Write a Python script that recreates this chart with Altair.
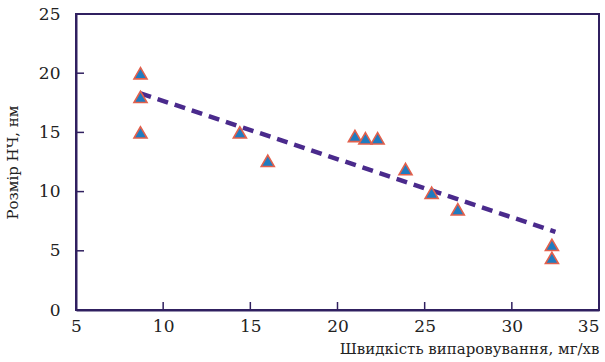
import altair as alt
import pandas as pd

# measured points
rate = [8.7, 8.7, 8.7, 14.4, 16.0, 21.0, 21.6, 22.3, 23.9, 25.4, 26.9, 32.3, 32.3]
size = [20.0, 18.0, 15.0, 15.0, 12.6, 14.7, 14.5, 14.5, 11.9, 9.9, 8.5, 5.5, 4.4]

# trend line end points
trend_x = [8.7, 32.5]
trend_y = [18.3, 6.6]

x_ticks = [5, 10, 15, 20, 25, 30, 35]
y_ticks = [0, 5, 10, 15, 20, 25]

W, H = 523, 296
FONT = "DejaVu Serif"
AX = "#302060"
TXT = "#222222"

pts = pd.DataFrame({"x": rate, "y": size})
trend = pd.DataFrame({"x": trend_x, "y": trend_y})
xt = pd.DataFrame({"t": x_ticks[1:-1]})
yt = pd.DataFrame({"t": y_ticks[1:-1]})

xs = alt.Scale(domain=[5, 35], nice=False, zero=False)
ys = alt.Scale(domain=[0, 25], nice=False, zero=False)

xaxis = alt.Axis(values=x_ticks, title="Швидкість випаровування, мг/хв", titleAnchor="end",
                 titleAlign="right", titleFont=FONT, titleFontSize=15, titleFontWeight="normal",
                 titleColor=TXT, titlePadding=7, labelFont=FONT, labelFontSize=17,
                 labelColor=TXT, labelPadding=8, ticks=True, tickSize=0, tickColor=AX,
                 grid=False, domain=True, domainColor=AX, domainWidth=2, labelFlush=False,
                 labelAlign={"expr": "datum.value == 35 ? 'right' : 'center'"})
yaxis = alt.Axis(values=y_ticks, title="Розмір НЧ, нм", titleFont=FONT, titleFontSize=15,
                 titleFontWeight="normal", titleColor=TXT, titlePadding=18,
                 labelFont=FONT, labelFontSize=17, labelColor=TXT, labelPadding=16,
                 ticks=True, tickSize=0, tickColor=AX, grid=False, domain=True,
                 domainColor=AX, domainWidth=2, labelFlush=False)

base_pts = alt.Chart(pts).mark_point(shape="triangle-up", filled=True, size=170,
                                      fill="#1f7cc1", stroke="#e2604c", strokeWidth=1.6,
                                      opacity=1).encode(
    x=alt.X("x:Q", scale=xs, axis=xaxis),
    y=alt.Y("y:Q", scale=ys, axis=yaxis),
)

line = alt.Chart(trend).mark_line(color="#4a2a8c", strokeWidth=4.5, strokeDash=[11, 7]).encode(
    x=alt.X("x:Q", scale=xs), y=alt.Y("y:Q", scale=ys)
)

# inward ticks
xtick = alt.Chart(xt).mark_rule(color=AX, strokeWidth=1.5).encode(
    x=alt.X("t:Q", scale=xs), y=alt.value(H), y2=alt.value(H - 8)
)
ytick = alt.Chart(yt).mark_rule(color=AX, strokeWidth=1.5).encode(
    y=alt.Y("t:Q", scale=ys), x=alt.value(0), x2=alt.value(8)
)

chart = alt.layer(xtick, ytick, line, base_pts).properties(
    width=W, height=H,
).configure_view(stroke=AX, strokeWidth=2)

chart.save("out.html", embed_options={"renderer": "svg", "actions": False})
